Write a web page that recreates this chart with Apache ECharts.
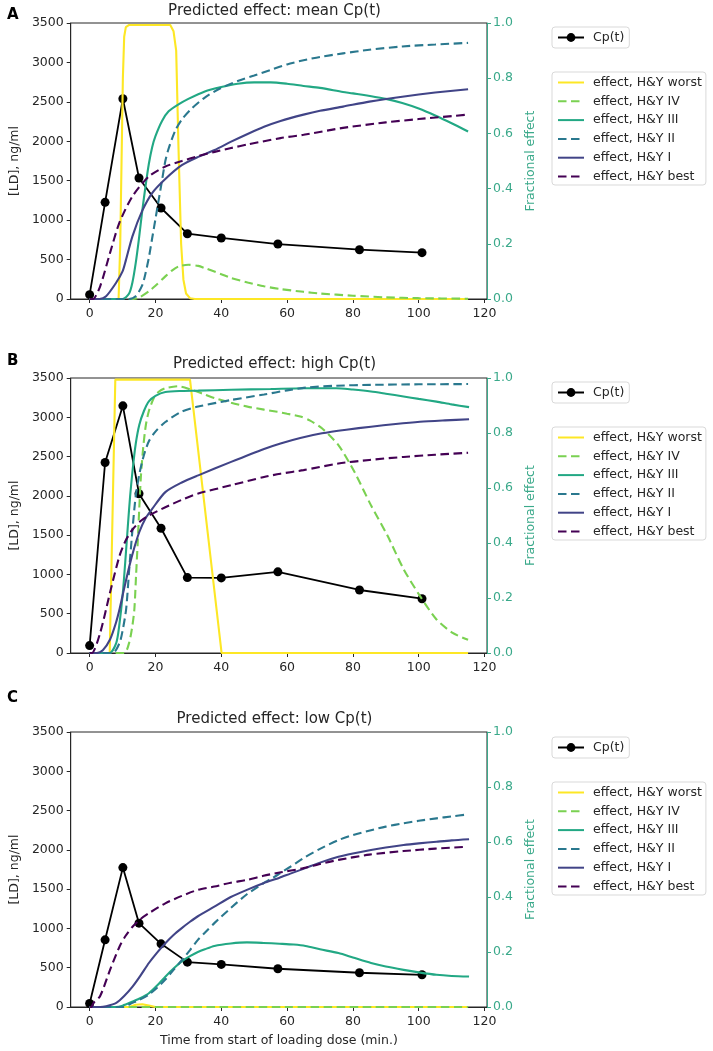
<!DOCTYPE html>
<html><head><meta charset="utf-8">
<script src="https://cdn.jsdelivr.net/npm/echarts@6/dist/echarts.min.js"></script>
<style>html,body{margin:0;padding:0;background:#fff}#c{width:713px;height:1051px}</style>
</head><body><div id="c"></div>
<script>
// ---------- DATA ----------
const cpTimes = [0, 4.7, 10.1, 15, 21.7, 29.7, 40, 57.2, 82, 101];
const cpA = [55, 1226, 2540, 1534, 1154, 828, 774, 697, 625, 588];
const cpB = [94, 2424, 3146, 2027, 1588, 960, 956, 1033, 802, 691];
const cpC = [45, 855, 1774, 1067, 804, 571, 542, 487, 436, 410];

const xTicks = [0, 20, 40, 60, 80, 100, 120];
const panelTitles = ['Predicted effect: mean Cp(t)', 'Predicted effect: high Cp(t)', 'Predicted effect: low Cp(t)'];
const panelLetters = ['A', 'B', 'C'];
const cpName = 'Cp(t)';
const effectNames = ['effect, H&Y worst', 'effect, H&Y IV', 'effect, H&Y III', 'effect, H&Y II', 'effect, H&Y I', 'effect, H&Y best'];

// Panel A effect curves [time, fraction]
const A_worst = [[0,0],[8.8,0],[9.3,0.2],[9.7,0.5],[10.1,0.8],[10.5,0.95],[11,0.985],[12,0.993],[24.5,0.993],[25.5,0.97],[26.3,0.9],[27,0.55],[27.8,0.2],[28.5,0.07],[29.3,0.02],[30.5,0.003],[32,0],[115,0]];
const A_IV = [[0,0],[13,0],[15,0.005],[18,0.028],[20,0.048],[23,0.082],[25,0.103],[27,0.118],[30,0.124],[33,0.12],[35,0.112],[40,0.09],[43,0.076],[48,0.06],[53,0.046],[58,0.036],[65,0.026],[70,0.02],[80,0.012],[90,0.006],[100,0.003],[115,0.001]];
const A_III = [[0,0],[10,0],[12,0.02],[13,0.06],[14,0.13],[15,0.22],[16,0.32],[17,0.41],[18,0.49],[19,0.55],[20,0.59],[22,0.645],[24,0.68],[27,0.705],[30,0.725],[35,0.752],[40,0.768],[45,0.78],[50,0.785],[55,0.785],[60,0.78],[65,0.772],[70,0.765],[77,0.75],[80,0.745],[90,0.725],[95,0.71],[100,0.69],[105,0.665],[110,0.637],[115,0.607]];
const A_II = [[0,0],[12,0],[14,0.01],[16,0.05],[17,0.094],[18,0.15],[19,0.22],[20,0.29],[21,0.36],[22,0.43],[23,0.5],[24,0.545],[26,0.61],[28,0.65],[31,0.69],[35,0.73],[40,0.765],[45,0.79],[50,0.81],[55,0.83],[60,0.85],[65,0.865],[70,0.877],[77,0.89],[85,0.903],[95,0.915],[105,0.922],[115,0.928]];
const A_I = [[0,0],[3,0],[5,0.01],[8,0.058],[10,0.1],[11,0.14],[13,0.227],[16,0.32],[19,0.384],[23,0.435],[28,0.485],[33,0.515],[38,0.54],[43,0.57],[48,0.598],[53,0.624],[58,0.645],[65,0.668],[70,0.682],[77,0.697],[85,0.715],[95,0.733],[105,0.748],[115,0.76]];
const A_best = [[0,0],[1,0],[3.2,0.046],[6.2,0.167],[9,0.275],[13,0.372],[18,0.444],[23,0.48],[28,0.5],[33,0.518],[38,0.533],[43,0.547],[48,0.56],[58,0.583],[65,0.595],[77,0.62],[90,0.64],[100,0.652],[115,0.668]];

// Panel B effect curves
const B_worst = [[0,0],[6.1,0],[7.8,0.994],[30.5,0.994],[40.1,0],[115,0]];
const B_IV = [[0,0],[10.5,0],[12,0.037],[13,0.1],[13.6,0.16],[14.1,0.28],[14.6,0.4],[15.1,0.53],[15.6,0.646],[16.3,0.75],[17.1,0.83],[18,0.88],[19.5,0.927],[21,0.95],[23,0.963],[27,0.97],[31,0.957],[35,0.94],[38,0.927],[43,0.91],[48,0.896],[53,0.885],[57,0.877],[60,0.87],[64,0.86],[67,0.845],[70.6,0.817],[75.6,0.756],[80.5,0.658],[85.5,0.537],[90.5,0.427],[95.4,0.305],[100.4,0.207],[105.4,0.122],[110.3,0.073],[115,0.048]];
const B_III = [[0,0],[6,0],[8.1,0.037],[9,0.1],[10.1,0.22],[11,0.36],[11.6,0.46],[12.3,0.57],[13.1,0.67],[14,0.76],[15.1,0.83],[16.5,0.88],[18,0.915],[20,0.935],[23,0.949],[28,0.953],[33,0.954],[43,0.957],[55,0.96],[65,0.963],[75,0.963],[80,0.958],[85.5,0.951],[90,0.943],[95.4,0.933],[100,0.924],[105.4,0.914],[110,0.904],[115.3,0.894]];
const B_II = [[0,0],[7,0],[9.1,0.037],[10,0.08],[11.1,0.16],[12,0.3],[13.1,0.46],[14,0.57],[15.1,0.65],[16.5,0.72],[18,0.77],[20,0.805],[23,0.84],[28,0.878],[33,0.896],[43,0.92],[53,0.94],[60,0.955],[65.6,0.965],[75,0.972],[85.5,0.975],[100,0.977],[115,0.978]];
const B_I = [[0,0],[2.2,0],[4,0.01],[6.2,0.049],[8,0.11],[9.1,0.16],[10.5,0.235],[12.1,0.317],[13.5,0.38],[15.1,0.44],[17,0.49],[19,0.524],[23,0.585],[28,0.62],[33,0.646],[43,0.695],[53,0.742],[58,0.762],[64,0.782],[70.6,0.799],[78,0.812],[85.5,0.823],[93,0.833],[100.4,0.841],[108,0.846],[115.3,0.85]];
const B_best = [[0,0],[0.7,0],[3.2,0.073],[6.2,0.22],[9.1,0.354],[11,0.41],[13.1,0.45],[15.5,0.48],[18,0.5],[23,0.53],[28,0.557],[33,0.58],[43,0.61],[53,0.64],[58,0.652],[65,0.665],[75.6,0.689],[85,0.702],[95.4,0.713],[105,0.721],[115,0.728]];

// Panel C effect curves
const C_worst = [[0,0],[12,0],[14,0.008],[16,0.01],[18,0.005],[20,0],[115,0]];
const C_IV = [[0,0],[30,0],[60,0],[90,0],[115,0]];
const C_III = [[0,0],[8,0],[10,0.005],[13.1,0.02],[15,0.03],[18,0.05],[20.5,0.078],[23,0.11],[25.5,0.14],[28,0.166],[30.5,0.185],[32.9,0.2],[35,0.21],[37.9,0.222],[42.9,0.231],[47.8,0.235],[52.8,0.233],[57.7,0.23],[62,0.227],[65.6,0.222],[70,0.21],[75.6,0.196],[80,0.18],[85.5,0.16],[90,0.147],[95.4,0.135],[100,0.126],[105.4,0.117],[110,0.113],[115.3,0.111]];
const C_II = [[0,0],[10,0],[13,0.015],[15,0.025],[18,0.045],[20.5,0.07],[23,0.1],[25.5,0.135],[28,0.17],[30.5,0.207],[32.9,0.244],[35,0.27],[37.9,0.305],[42.9,0.36],[47.8,0.41],[52.8,0.45],[55.7,0.47],[57.7,0.485],[61,0.51],[65.6,0.546],[70,0.575],[75.6,0.607],[80,0.625],[85.5,0.643],[90,0.656],[95.4,0.668],[100,0.677],[105.4,0.686],[110,0.693],[114.8,0.7]];
const C_I = [[0,0],[3.2,0],[5,0.003],[8.1,0.015],[10.5,0.04],[13.1,0.075],[15.5,0.115],[18,0.16],[20.5,0.198],[23,0.232],[25.5,0.262],[28,0.287],[30.5,0.31],[32.9,0.33],[37.9,0.365],[42.9,0.4],[47.8,0.426],[52.8,0.45],[57.7,0.47],[61,0.485],[65.6,0.505],[70,0.525],[75.6,0.546],[80,0.558],[85.5,0.571],[90,0.58],[95.4,0.589],[100,0.595],[105.4,0.601],[110,0.606],[115.3,0.61]];
const C_best = [[0,0],[0.5,0],[1.2,0.015],[3.2,0.04],[6.2,0.135],[9.1,0.22],[11,0.26],[13.1,0.293],[15.5,0.32],[18,0.341],[23,0.377],[28,0.404],[32.9,0.426],[37.9,0.438],[42.9,0.452],[47.8,0.462],[52.8,0.477],[57.7,0.489],[64.7,0.504],[70,0.52],[75.6,0.535],[85,0.554],[95.4,0.567],[105,0.576],[114.8,0.583]];

const cpSets = [cpA, cpB, cpC];
const effectSets = [
  [A_worst, A_IV, A_III, A_II, A_I, A_best],
  [B_worst, B_IV, B_III, B_II, B_I, B_best],
  [C_worst, C_IV, C_III, C_II, C_I, C_best]
];

// ---------- STYLE ----------
const FONT = 'DejaVu Sans';
const FS = 12.5;
const INK = '#262626';
const TEAL = '#3aa98a';
const effectColors = ['#fde725', '#7ad151', '#22a884', '#2a788e', '#414487', '#440154'];
const effectDashed = [false, true, false, true, false, true];
const gridTops = [23, 378, 732];
const gridHeights = [276, 275, 275];
const titleTops = [4, 357, 712];
const letterTops = [8, 354, 691];
const legendTops = [[27, 72], [382, 427], [737, 782]];

const grid = [], xAxis = [], yAxis = [], series = [], title = [], legend = [];

gridTops.forEach((top, i) => {
  grid.push({left: 62, top: top, width: 425, height: gridHeights[i], show: true,
    borderColor: INK, borderWidth: 1, backgroundColor: 'transparent'});
  xAxis.push({
    type: 'value', gridIndex: i, min: -5.75, max: 120.75,
    axisLine: {show: true, onZero: false, lineStyle: {color: INK, width: 1}},
    axisTick: {show: true, customValues: xTicks, length: 4, lineStyle: {color: INK}},
    axisLabel: {customValues: xTicks, color: INK, fontFamily: FONT, fontSize: FS, margin: 8},
    splitLine: {show: false},
    name: i === 2 ? 'Time from start of loading dose (min.)' : '',
    nameLocation: 'middle', nameGap: 27,
    nameTextStyle: {color: INK, fontFamily: FONT, fontSize: FS}
  });
  yAxis.push({
    type: 'value', gridIndex: i, position: 'left', min: 0, max: 3500, interval: 500,
    axisLine: {show: true, onZero: false, lineStyle: {color: INK, width: 1}},
    axisTick: {show: true, length: 4, lineStyle: {color: INK}},
    axisLabel: {color: INK, fontFamily: FONT, fontSize: FS, margin: 7, formatter: v => String(v)},
    splitLine: {show: false},
    name: '[LD], ng/ml', nameLocation: 'middle', nameGap: 38, nameRotate: 90,
    nameTextStyle: {color: INK, fontFamily: FONT, fontSize: FS}
  });
  yAxis.push({
    type: 'value', gridIndex: i, position: 'right', min: 0, max: 1, interval: 0.2,
    axisLine: {show: true, onZero: false, lineStyle: {color: TEAL, width: 1}},
    axisTick: {show: true, length: 4, lineStyle: {color: TEAL}},
    axisLabel: {color: TEAL, fontFamily: FONT, fontSize: FS, margin: 6, formatter: v => v.toFixed(1)},
    splitLine: {show: false},
    name: 'Fractional effect', nameLocation: 'middle', nameGap: 36, nameRotate: 90,
    nameTextStyle: {color: TEAL, fontFamily: FONT, fontSize: FS}
  });
  title.push({text: panelTitles[i], left: 274.5, top: titleTops[i], textAlign: 'center', padding: 0,
    textStyle: {color: INK, fontFamily: FONT, fontSize: 15, fontWeight: 'normal'}});
  title.push({text: panelLetters[i], left: 7, top: letterTops[i], padding: 0,
    textStyle: {color: '#000', fontFamily: FONT, fontSize: 15, fontWeight: 'bold'}});

  const legendCommon = {left: 552, orient: 'vertical', borderColor: '#d9d9d9', borderWidth: 1,
    borderRadius: 3, backgroundColor: '#fff', itemWidth: 26,
    textStyle: {color: INK, fontFamily: FONT, fontSize: FS, padding: [0, 0, 0, 4]}, selectedMode: false};
  legend.push(Object.assign({}, legendCommon, {top: legendTops[i][0], data: [cpName], padding: [4, 5, 4, 5], itemHeight: 11}));
  legend.push(Object.assign({}, legendCommon, {top: legendTops[i][1], data: effectNames, padding: [4, 4, 2, 5],
    itemHeight: 12, itemGap: 5.8, itemStyle: {opacity: 0}}));

  series.push({
    name: cpName, type: 'line', xAxisIndex: i, yAxisIndex: 2 * i,
    data: cpTimes.map((t, k) => [t, cpSets[i][k]]),
    symbol: 'circle', symbolSize: 9, showSymbol: true,
    itemStyle: {color: '#000'}, lineStyle: {color: '#000', width: 1.8}, z: 2
  });
  effectSets[i].forEach((pts, j) => {
    series.push({
      name: effectNames[j], type: 'line', xAxisIndex: i, yAxisIndex: 2 * i + 1,
      data: pts, symbol: 'none', smooth: j === 0 ? false : 0.25,
      itemStyle: {color: effectColors[j]},
      lineStyle: {color: effectColors[j], width: 2.1, type: effectDashed[j] ? [8.5, 4.5] : 'solid'},
      z: 3
    });
  });
});

const chart = echarts.init(document.getElementById('c'), null, {renderer: 'canvas'});
chart.setOption({animation: false, backgroundColor: '#fff', grid, xAxis, yAxis, series, title, legend, tooltip: {show: false}});
</script>
</body></html>
